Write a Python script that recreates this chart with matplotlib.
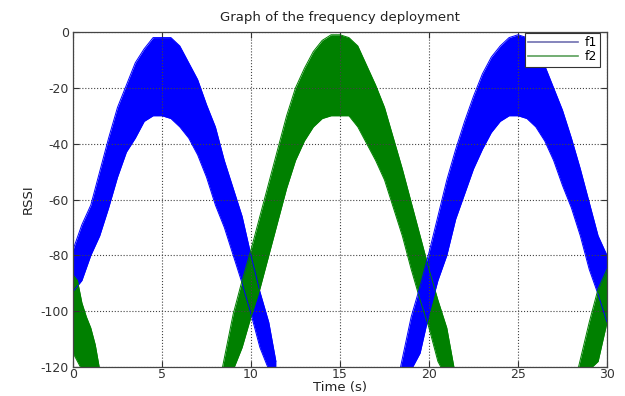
import matplotlib
matplotlib.use("Agg")
from matplotlib import pyplot as plt
from matplotlib.lines import Line2D

# values: top / bottom edge of each noisy band (RSSI)
f1_t1 = [0, 0.5, 1, 1.5, 2, 2.5, 3, 3.5, 4, 4.5, 5, 5.5, 6, 6.5, 7, 7.5, 8, 8.5, 9, 9.5, 10, 10.5, 11, 11.4]
f1_top1 = [-78, -69, -62, -50, -38, -27, -19, -11, -6, -2, -2, -2, -5, -11, -17, -26, -34, -46, -56, -66, -80, -93, -104, -118]
f1_low1 = [-93, -89, -80, -73, -63, -52, -43, -38, -32, -30, -30, -31, -34, -38, -44, -52, -62, -70, -80, -90, -101, -113, -121, -125]

f1_t2 = [18.4, 19, 19.5, 20, 20.5, 21, 21.5, 22, 22.5, 23, 23.5, 24, 24.5, 25, 25.5, 26, 26.5, 27, 27.5, 28, 28.5, 29, 29.5, 30]
f1_top2 = [-120, -102, -91, -79, -66, -53, -42, -32, -23, -15, -9, -5, -2, -1, -2, -5, -12, -20, -28, -38, -49, -61, -73, -80]
f1_low2 = [-125, -121, -115, -101, -89, -80, -67, -58, -49, -42, -36, -32, -30, -30, -31, -34, -39, -46, -55, -63, -73, -85, -94, -104]

f2_t1 = [0, 0.25, 0.5, 0.75, 1, 1.25, 1.5]
f2_top1 = [-87, -89, -97, -102, -106, -112, -121]
f2_low1 = [-115, -118, -121, -123, -125, -125, -125]

f2_t2 = [8.4, 9, 9.5, 10, 10.5, 11, 11.5, 12, 12.5, 13, 13.5, 14, 14.5, 15, 15.5, 16, 16.5, 17, 17.5, 18, 18.5, 19, 19.5, 20, 20.5, 21, 21.4]
f2_top2 = [-120, -101, -89, -78, -66, -54, -42, -30, -20, -13, -7, -3, -1, -1, -2, -5, -12, -19, -27, -38, -49, -61, -73, -85, -96, -106, -120]
f2_low2 = [-125, -121, -113, -102, -92, -80, -68, -56, -46, -39, -34, -31, -30, -30, -30, -34, -40, -46, -53, -63, -73, -85, -96, -106, -118, -124, -125]

f2_t3 = [28.4, 29, 29.5, 30]
f2_top3 = [-120, -104, -92, -85]
f2_low3 = [-125, -121, -118, -104]

x_ticks = [0, 5, 10, 15, 20, 25, 30]
y_ticks = [-120, -100, -80, -60, -40, -20, 0]


def draw_band(ax, t, top, low, color):
    ax.fill_between(t, low, top, color=color, linewidth=0)
    ax.plot(t, top, color=color, linewidth=0.7)
    ax.plot(t, low, color=color, linewidth=0.7)


def drawing_graph():
    plt.rcParams["font.family"] = "DejaVu Sans"
    plt.rcParams["axes.unicode_minus"] = False
    fig = plt.figure(figsize=(6.25, 3.96), dpi=100)
    ax = fig.add_axes([0.1168, 0.0732, 0.8544, 0.846])

    blue = "#0000ff"
    green = "#008000"
    draw_band(ax, f1_t1, f1_top1, f1_low1, blue)
    draw_band(ax, f2_t1, f2_top1, f2_low1, green)
    draw_band(ax, f2_t2, f2_top2, f2_low2, green)
    draw_band(ax, f1_t2, f1_top2, f1_low2, blue)
    draw_band(ax, f2_t3, f2_top3, f2_low3, green)

    ax.set_xlim(0, 30)
    ax.set_ylim(-120, 0)
    ax.set_xticks(x_ticks)
    ax.set_yticks(y_ticks)
    ax.tick_params(direction="in", length=4, labelsize=9, colors="#333333",
                   top=True, right=True)
    ax.tick_params(axis="x", pad=1)
    ax.tick_params(axis="y", pad=3)
    ax.grid(True, linestyle=":", color="#444444", linewidth=0.8)
    for s in ax.spines.values():
        s.set_color("#444444")
        s.set_linewidth(0.9)

    ax.set_title("Graph of the frequency deployment", fontsize=9.5, color="#222222", pad=8)
    ax.set_xlabel("Time (s)", fontsize=9.5, color="#222222", labelpad=0)
    ax.set_ylabel("RSSI", fontsize=9.5, color="#222222", labelpad=4)

    handles = [Line2D([], [], color="#6f6fb0", linewidth=1.2),
               Line2D([], [], color="#5aa05a", linewidth=1.2)]
    leg = ax.legend(handles, ["f1", "f2"], loc="upper right",
                    bbox_to_anchor=(0.987, 0.997), borderaxespad=0,
                    fontsize=9, handlelength=4.0, labelspacing=0.1,
                    borderpad=0.25, handletextpad=0.5, fancybox=False,
                    framealpha=1, edgecolor="#333333")
    leg.get_frame().set_linewidth(0.8)

    fig.savefig("out.png", dpi=100)


def main():
    drawing_graph()


if __name__ == "__main__":
    main()
